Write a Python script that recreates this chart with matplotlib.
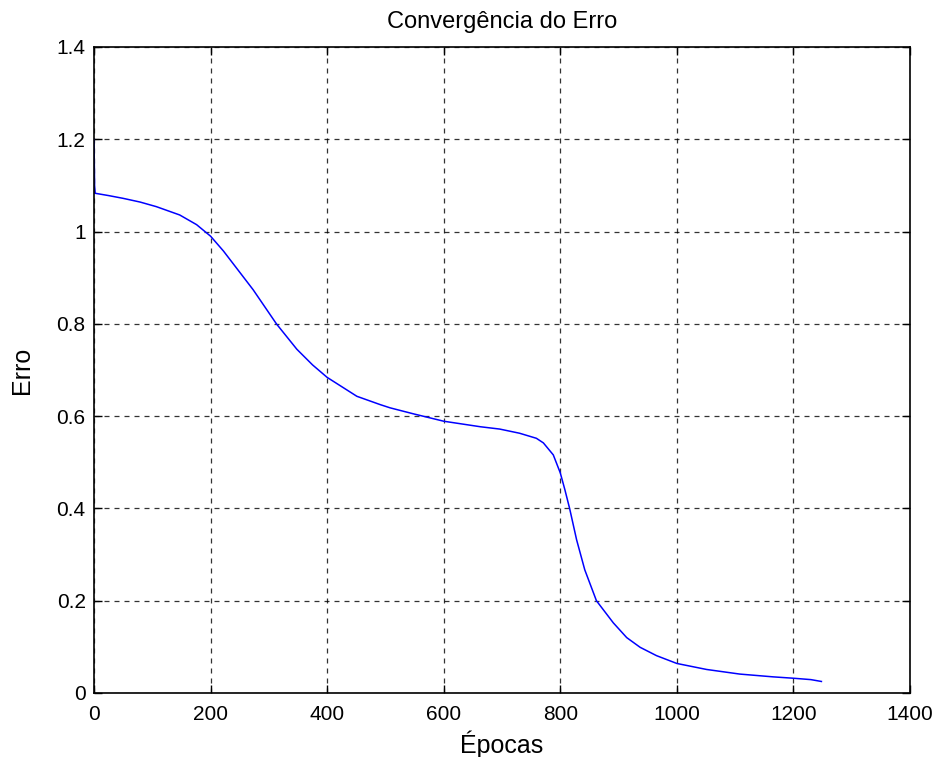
import matplotlib
matplotlib.use('Agg')
import matplotlib.pyplot as plt

# valores
epocas = [0, 1, 2, 25, 50, 79, 107, 147, 176, 200, 222, 239, 273, 313, 348,
          375, 400, 451, 491, 508, 548, 600, 663, 696, 730, 759, 771, 788, 800,
          808, 816, 828, 842, 862, 891, 914, 937, 965, 1000, 1051, 1108, 1165,
          1200, 1230, 1248]
erro = [1.20, 1.10, 1.083, 1.078, 1.072, 1.064, 1.054, 1.036, 1.015, 0.990,
        0.958, 0.930, 0.874, 0.800, 0.745, 0.711, 0.684, 0.643, 0.625, 0.618,
        0.605, 0.589, 0.577, 0.572, 0.563, 0.552, 0.542, 0.516, 0.477, 0.440,
        0.400, 0.332, 0.267, 0.200, 0.152, 0.120, 0.099, 0.081, 0.064, 0.051,
        0.041, 0.035, 0.032, 0.029, 0.025]

xticks = [0, 200, 400, 600, 800, 1000, 1200, 1400]
yticks = [0, 0.2, 0.4, 0.6, 0.8, 1, 1.2, 1.4]
ylabels = ['0', '0.2', '0.4', '0.6', '0.8', '1', '1.2', '1.4']

plt.rcParams['font.family'] = ['Liberation Sans', 'DejaVu Sans']
plt.rcParams['font.size'] = 15

fig = plt.figure(figsize=(9.38, 7.57), dpi=100)
ax = fig.add_axes([94 / 938, 64 / 757, 816 / 938, 646 / 757])

ax.plot(epocas, erro, color='#0000ff', lw=1.1)

ax.set_xlim(0, 1400)
ax.set_ylim(0, 1.4)
ax.set_xticks(xticks)
ax.set_yticks(yticks)
ax.set_yticklabels(ylabels)
ax.grid(True, color='black', linestyle=(0, (4, 4)), lw=0.9, alpha=0.8)
ax.tick_params(direction='in', top=True, right=True, length=6, width=1)
ax.tick_params(axis='x', pad=9)
ax.tick_params(axis='y', pad=6)
for s in ax.spines.values():
    s.set_linewidth(1.2)

ax.set_title('Convergência do Erro', fontsize=17, pad=14)
ax.set_xlabel('Épocas', fontsize=18, labelpad=4)
ax.set_ylabel('Erro', fontsize=18, labelpad=16)

fig.savefig('out.png', dpi=100)
